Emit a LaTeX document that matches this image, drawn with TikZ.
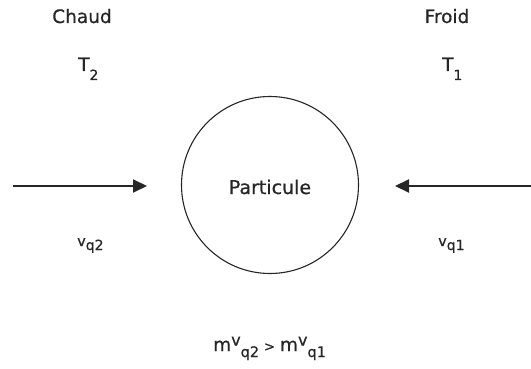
\documentclass[tikz,border=0pt]{standalone}
\usepackage{fontspec}
\setmainfont{DejaVu Sans}[FakeBold=0.6]
\usetikzlibrary{arrows.meta}
\newcommand{\fsz}[1]{\fontsize{#1}{#1}\selectfont}
\begin{document}
\begin{tikzpicture}[x=1pt,y=-1pt,
  lbl/.style={inner sep=0pt, text=black!85, font=\fsz{18.5}},
  flow/.style={line width=2pt, draw=black!85, -{Triangle[length=14pt,width=13pt]}},
  part/.style={circle, draw=black!85, line width=1.1pt, minimum size=177pt, inner sep=0pt}]
\useasboundingbox (0,0) rectangle (531,369);
% headings
\node[lbl, anchor=base] (chaud) at (82,23) {Chaud};
\node[lbl, anchor=base] (froid) at (447,23) {Froid};
\node[lbl, anchor=base west] (t2) at (78,71) {T\raisebox{-9pt}{\fsz{14}2}};
\node[lbl, anchor=base west] (t1) at (442,71) {T\raisebox{-9pt}{\fsz{14}1}};
% particle
\node[part] (p) at (270,185) {};
\node[lbl, anchor=base, font=\fsz{19}] (plabel) at (p.center |- 0,194) {Particule};
% arrows
\coordinate (lstart) at (13,186);
\coordinate (lend) at (147,186);
\coordinate (rstart) at (531,186);
\coordinate (rend) at (395,186);
\draw[flow] (lstart) -- (lend);
\draw[flow] (rstart) -- (rend);
% velocity labels
\node[lbl, anchor=base west] (vq2) at (77,246) {\fsz{14.5}v\raisebox{-4pt}{\fsz{14}q2}};
\node[lbl, anchor=base west] (vq1) at (438,246) {\fsz{14.5}v\raisebox{-4pt}{\fsz{14}q1}};
% relation
\node[lbl, anchor=base west] (rel) at (213,351) {\fsz{18.5}m\raisebox{5.5pt}{\fsz{16}v}\raisebox{-6pt}{\fsz{14.5}q2}\hspace{5pt}{\fsz{13}>}\hspace{5pt}\fsz{18.5}m\raisebox{5.5pt}{\fsz{16}v}\raisebox{-6pt}{\fsz{14.5}q1}};
\end{tikzpicture}
\end{document}
